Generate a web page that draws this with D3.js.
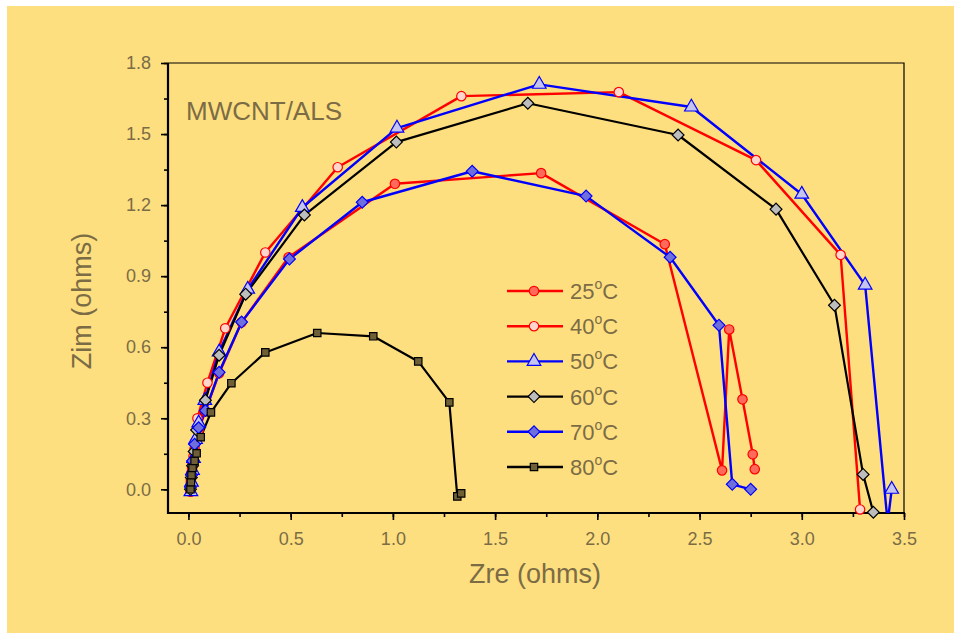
<!DOCTYPE html>
<html>
<head>
  <meta charset="UTF-8">
  <style>
    body { margin: 0; background: #fff; }
    text { font-family: "Liberation Sans", Arial, sans-serif; }
  </style>
  <title>MWCNT/ALS</title>
</head>
<body>
<svg></svg>
<script src="https://d3js.org/d3.v7.min.js"></script>
<script>

let width = 954, height = 633;

// data (Zre, Zim in ohms)
let t25 = [[0.01,-0.01],[0.012,0.03],[0.015,0.07],[0.02,0.11],[0.03,0.17],[0.05,0.25],[0.083,0.33],[0.15,0.49],[0.26,0.705],[0.49,0.98],[1.01,1.29],[1.725,1.335],[2.33,1.035],[2.61,0.08],[2.645,0.675],[2.71,0.38],[2.76,0.148],[2.77,0.085]];
let t40 = [[0.01,0.0],[0.012,0.04],[0.018,0.09],[0.025,0.14],[0.033,0.2],[0.044,0.30],[0.093,0.45],[0.18,0.68],[0.376,1.0],[0.73,1.36],[1.335,1.66],[2.105,1.677],[2.776,1.39],[3.19,0.99],[3.285,-0.085]];
let t50 = [[0.012,-0.01],[0.015,0.03],[0.02,0.08],[0.025,0.13],[0.035,0.21],[0.05,0.28],[0.08,0.375],[0.15,0.58],[0.29,0.845],[0.557,1.19],[1.02,1.525],[1.716,1.71],[2.46,1.614],[3.0,1.246],[3.31,0.862],[3.42,-0.14],[3.44,0.0]];
let t60 = [[0.01,0.0],[0.014,0.05],[0.02,0.1],[0.028,0.16],[0.04,0.25],[0.083,0.376],[0.15,0.566],[0.28,0.824],[0.567,1.158],[1.017,1.466],[1.66,1.63],[2.395,1.496],[2.874,1.183],[3.16,0.777],[3.30,0.063],[3.35,-0.097]];
let t70 = [[0.01,0.01],[0.015,0.06],[0.02,0.12],[0.03,0.19],[0.05,0.26],[0.083,0.333],[0.15,0.494],[0.26,0.706],[0.494,0.972],[0.85,1.212],[1.388,1.343],[1.945,1.238],[2.356,0.98],[2.595,0.693],[2.66,0.021],[2.75,0.0]];
let t80 = [[0.01,0.0],[0.012,0.03],[0.015,0.06],[0.02,0.09],[0.03,0.12],[0.04,0.152],[0.06,0.22],[0.11,0.325],[0.21,0.448],[0.376,0.578],[0.63,0.66],[0.904,0.646],[1.124,0.54],[1.276,0.367],[1.315,-0.03],[1.334,-0.017]];

let labels = ["25", "40", "50", "60", "70", "80"];
let seriesData = [t25, t40, t50, t60, t70, t80];

let xTicks = [0, 0.5, 1.0, 1.5, 2.0, 2.5, 3.0, 3.5];
let yTicks = [0, 0.3, 0.6, 0.9, 1.2, 1.5, 1.8];

let styles = [
  {line: "#ff0000", stroke: "#ff0000", fill: "#ff6a5a", shape: d3.symbolCircle, size: 70, rot: 0},
  {line: "#ff0000", stroke: "#ff0000", fill: "#ffd6cc", shape: d3.symbolCircle, size: 70, rot: 0},
  {line: "#0000ff", stroke: "#0000ff", fill: "#c4c4ee", shape: d3.symbolTriangle, size: 80, rot: 0},
  {line: "#000000", stroke: "#000000", fill: "#bdbdbd", shape: d3.symbolSquare, size: 70, rot: 45},
  {line: "#0000ff", stroke: "#0000ff", fill: "#6f6fdc", shape: d3.symbolSquare, size: 70, rot: 45},
  {line: "#000000", stroke: "#000000", fill: "#6e5f37", shape: d3.symbolSquare, size: 55, rot: 0}
];

let textColor = "#7b6c46";

let svg = d3.select("svg")
    .attr("width", width)
    .attr("height", height);

svg.append("rect")
    .attr("x", 7).attr("y", 6)
    .attr("width", width - 7).attr("height", height - 6)
    .attr("fill", "#fedf7f");

let pLeft = 168, pRight = 904, pTop = 63, pBottom = 513;

let x = d3.scaleLinear().domain([-0.1, 3.5]).range([pLeft, pRight]);
let y = d3.scaleLinear().domain([-0.1, 1.8]).range([pBottom, pTop]);

svg.append("clipPath").attr("id", "clip")
  .append("rect")
    .attr("x", pLeft).attr("y", pTop)
    .attr("width", pRight - pLeft).attr("height", pBottom - pTop);

// frame top/right
svg.append("path")
    .attr("d", "M" + pLeft + "," + pTop + "H" + pRight + "V" + pBottom)
    .attr("fill", "none")
    .attr("stroke", "black")
    .attr("stroke-width", 1.2);

// axes
let xMinor = d3.range(0, 3.51, 0.25);
let yMinor = d3.range(0, 1.81, 0.15);

let gx = svg.append("g").attr("transform", "translate(0," + pBottom + ")");
gx.call(d3.axisBottom(x).tickValues(xMinor).tickSize(4).tickFormat(""));
gx.append("g").call(d3.axisBottom(x).tickValues(xTicks).tickSize(7).tickPadding(12).tickFormat(d3.format(".1f")));
gx.selectAll("path.domain").remove();
gx.append("line").attr("x1", pLeft - 1).attr("x2", pRight + 1).attr("stroke", "black").attr("stroke-width", 2.2);

let gy = svg.append("g").attr("transform", "translate(" + pLeft + ",0)");
gy.call(d3.axisLeft(y).tickValues(yMinor).tickSize(4).tickFormat(""));
gy.append("g").call(d3.axisLeft(y).tickValues(yTicks).tickSize(7).tickPadding(10).tickFormat(d3.format(".1f")));
gy.selectAll("path.domain").remove();
gy.append("line").attr("y1", pTop).attr("y2", pBottom + 1).attr("stroke", "black").attr("stroke-width", 2.2);

svg.selectAll(".tick line").attr("stroke", "black").attr("stroke-width", 1.6);
svg.selectAll(".tick text")
    .attr("fill", textColor)
    .style("font-size", "18px")
    .style("font-family", "'Liberation Sans', Arial, sans-serif");

// axis titles
svg.append("text")
    .attr("x", 535).attr("y", 583)
    .attr("text-anchor", "middle")
    .attr("fill", textColor)
    .style("font-size", "27px")
    .text("Zre (ohms)");

svg.append("text")
    .attr("transform", "translate(91,301) rotate(-90)")
    .attr("text-anchor", "middle")
    .attr("fill", textColor)
    .style("font-size", "27px")
    .text("Zim (ohms)");

svg.append("text")
    .attr("x", 186).attr("y", 120)
    .attr("fill", textColor)
    .style("font-size", "26px")
    .text("MWCNT/ALS");

// curves
let line = d3.line().x(d => x(d[0])).y(d => y(d[1]));
let plot = svg.append("g").attr("clip-path", "url(#clip)");

seriesData.forEach((data, i) => {
  let s = styles[i];
  plot.append("path")
      .datum(data)
      .attr("d", line)
      .attr("fill", "none")
      .attr("stroke", s.line)
      .attr("stroke-width", i == 3 || i == 5 ? 2.2 : 2.4)
      .attr("stroke-linejoin", "round");
});

seriesData.forEach((data, i) => {
  let s = styles[i];
  svg.append("g")
    .selectAll("path")
    .data(data.filter(d => d[1] >= -0.1))
    .enter()
    .append("path")
      .attr("transform", d => "translate(" + x(d[0]) + "," + y(d[1]) + ") rotate(" + s.rot + ")")
      .attr("d", d3.symbol().type(s.shape).size(s.size))
      .attr("fill", s.fill)
      .attr("stroke", s.stroke)
      .attr("stroke-width", 1.2);
});

// legend
let legend = svg.append("g");
labels.forEach((lab, i) => {
  let s = styles[i];
  let ly = 291 + i * 35.2;
  legend.append("line")
      .attr("x1", 507).attr("x2", 563)
      .attr("y1", ly).attr("y2", ly)
      .attr("stroke", s.line).attr("stroke-width", 2.4);
  legend.append("path")
      .attr("transform", "translate(534," + ly + ") rotate(" + s.rot + ")")
      .attr("d", d3.symbol().type(s.shape).size(s.size))
      .attr("fill", s.fill)
      .attr("stroke", s.stroke)
      .attr("stroke-width", 1.2);
  let t = legend.append("text")
      .attr("x", 570).attr("y", ly + 8)
      .attr("fill", textColor)
      .style("font-size", "22px");
  t.append("tspan").text(lab);
  t.append("tspan").attr("dy", -10).style("font-size", "14px").text("o");
  t.append("tspan").attr("dy", 10).text("C");
});

</script>
</body>
</html>
